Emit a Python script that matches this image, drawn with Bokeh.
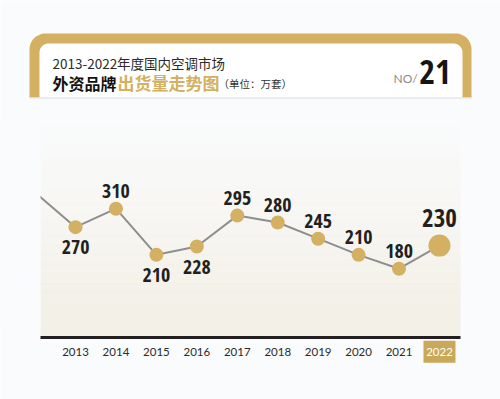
import numpy as np
from bokeh.plotting import figure
from bokeh.models import Range1d, ColumnDataSource
from bokeh.core.properties import value
from bokeh.embed import file_html
from bokeh.resources import INLINE

# ---- data ----
years = [2013, 2014, 2015, 2016, 2017, 2018, 2019, 2020, 2021, 2022]
shipments = [270, 310, 210, 228, 295, 280, 245, 210, 180, 230]
lead_year = 2012          # line enters from the previous year
lead_value = 345
label_side = ["below", "above", "below", "below", "above",
              "above", "above", "above", "above", "above"]
year_labels = [str(y) for y in years]
highlight_year = 2022

title_line1 = "2013-2022年度国内空调市场"
title_black = "外资品牌"
title_gold = "出货量走势图"
unit_text = "（单位：万套）"
issue_prefix = "NO/"
issue_no = "21"

# ---- style ----
BG = "#fafbfc"
GOLD = "#d3b062"
GOLD_BOX = "#caa85a"
BEIGE = "#f3f0e7"
LINE = "#8e8e8e"
DARK = "#231f20"
NARROW = value("Open Sans Condensed")
CJK = value("Noto Sans CJK SC")

W, H = 500, 399
p = figure(width=W, height=H, output_backend="svg", toolbar_location=None,
           x_range=Range1d(2011.145, 2023.509), y_range=Range1d(-103.3, 760.9),
           x_axis_location=None, y_axis_location=None, min_border=0,
           background_fill_color=BG, border_fill_color=BG, outline_line_color=None)
p.grid.visible = False
# pixel ranges for decorations (page coordinates, y downwards)
p.extra_x_ranges = {"px": Range1d(0, W)}
p.extra_y_ranges = {"py": Range1d(H, 0)}
PX = dict(x_range_name="px", y_range_name="py")


def top_rounded(x0, x1, y0, y1, r, n=16):
    xs, ys = [x0], [y1]
    a = np.linspace(np.pi, 1.5 * np.pi, n)
    xs += list(x0 + r + r * np.cos(a)); ys += list(y0 + r + r * np.sin(a))
    a = np.linspace(1.5 * np.pi, 2 * np.pi, n)
    xs += list(x1 - r + r * np.cos(a)); ys += list(y0 + r + r * np.sin(a))
    xs += [x1]; ys += [y1]
    return xs, ys


# header card
gx, gy = top_rounded(29, 471, 33, 97, 16)
p.patch(gx, gy, fill_color=GOLD, line_color=None, **PX)
wx, wy = top_rounded(39, 462, 43, 97, 9)
p.patch(wx, wy, fill_color="#ffffff", line_color=None, **PX)
p.segment(x0=29, y0=98, x1=471, y1=98, line_color="#eeeef0", line_width=1.5, **PX)

# beige panel with vertical gradient
n = 40
edges = np.linspace(110, 300, n + 1)
alphas = np.linspace(0, 1, n) ** 1.3
p.quad(left=40, right=460, top=edges[:-1], bottom=edges[1:], fill_color=BEIGE,
       fill_alpha=alphas, line_color=None, **PX)
p.quad(left=40, right=460, top=300, bottom=337, fill_color=BEIGE, line_color=None, **PX)

# series line
p.line([lead_year] + years, [lead_value] + shipments, line_color=LINE, line_width=2)
# mask the lead-in outside the panel
p.quad(left=0, right=40, top=120, bottom=330, fill_color=BG, line_color=None, **PX)

# axis line
p.segment(x0=40, y0=337, x1=460, y1=337, line_color=DARK, line_width=3, **PX)

# markers
sizes = [22 if y == highlight_year else 14 for y in years]
p.scatter(years, shipments, size=sizes, fill_color=GOLD, line_color=None)

# value labels
offs = []
fsz = []
for y, side in zip(years, label_side):
    if y == highlight_year:
        offs.append(-28); fsz.append("25px")
    elif side == "above":
        offs.append(-18); fsz.append("20px")
    else:
        offs.append(20); fsz.append("20px")
src = ColumnDataSource(dict(x=years, y=shipments, t=[str(v) for v in shipments],
                            off=offs, fs=fsz))
p.text(x="x", y="y", text="t", y_offset="off", text_font_size="fs", source=src,
       text_align="center", text_baseline="middle", text_color=DARK,
       text_font=NARROW)

# year labels (at value 0)
p.rect(x=[highlight_year], y=[0], width=32, height=22, width_units="screen",
       height_units="screen", fill_color=GOLD_BOX, line_color=None)
ycols = ["#ffffff" if y == highlight_year else "#2a2a2a" for y in years]
p.text(x=years, y=[0] * len(years), text=year_labels, text_color=ycols,
       text_align="center", text_baseline="middle", text_font_size="11.5px",
       text_font=value("Lato"))

# header texts
p.text(x=[52], y=[62], text=[title_line1], text_font=CJK, text_font_size="13.5px",
       text_color="#2b2b2b", text_baseline="middle", **PX)
p.text(x=[52], y=[82], text=[title_black], text_font=CJK, text_font_size="16px",
       text_font_style="bold", text_color="#111111", text_baseline="middle", **PX)
p.text(x=[117], y=[82], text=[title_gold], text_font=CJK, text_font_size="17px",
       text_font_style="bold", text_color=GOLD, text_baseline="middle", **PX)
p.text(x=[218], y=[83], text=[unit_text], text_font=CJK, text_font_size="10.5px",
       text_color="#333333", text_baseline="middle", **PX)
p.text(x=[393], y=[78], text=[issue_prefix], text_font=value("Lato"), text_font_size="12px",
       text_color="#8a8a8a", text_baseline="middle", **PX)
p.text(x=[434.5], y=[71], text=[issue_no], text_font=NARROW, text_font_size="34px",
       text_font_style="bold", text_color="#161414", text_baseline="middle",
       text_align="center", **PX)

open("out.html", "w").write(file_html(p, INLINE))
